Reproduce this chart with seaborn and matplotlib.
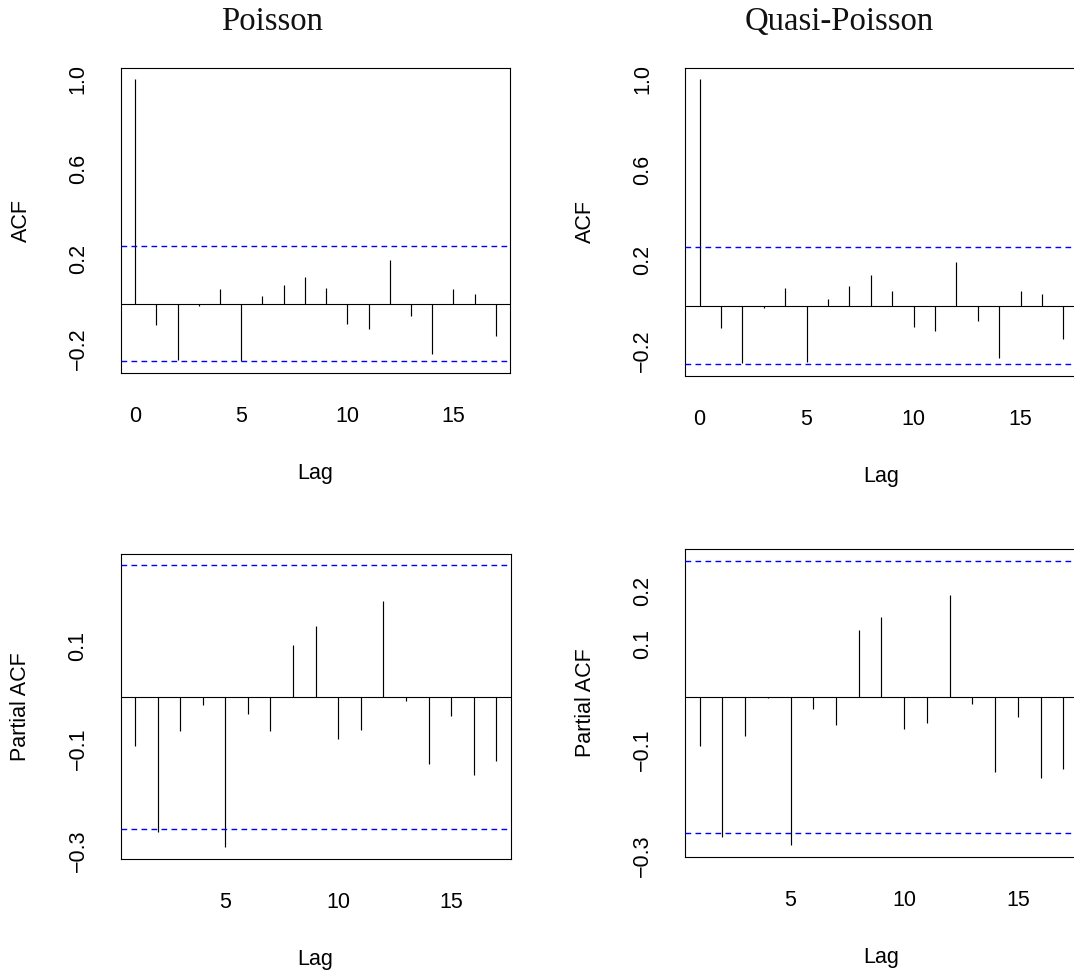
import matplotlib
matplotlib.use("Agg")
import matplotlib.pyplot as plt
import numpy as np
import pandas as pd
import seaborn as sns

# values
ACF_LAGS = list(range(0, 18))
PACF_LAGS = list(range(1, 18))
ACF_POISSON = [1.0, -0.095, -0.251, -0.009, 0.064, -0.255, 0.034, 0.083, 0.117,
               0.071, -0.092, -0.113, 0.194, -0.055, -0.224, 0.064, 0.043, -0.142]
ACF_QUASI = [1.0, -0.096, -0.254, -0.012, 0.078, -0.247, 0.029, 0.087, 0.135,
             0.065, -0.093, -0.110, 0.194, -0.068, -0.229, 0.065, 0.054, -0.147]
PACF_POISSON = [-0.095, -0.263, -0.067, -0.016, -0.293, -0.033, -0.067, 0.102, 0.138,
                -0.081, -0.064, 0.187, -0.008, -0.131, -0.036, -0.152, -0.124]
PACF_QUASI = [-0.094, -0.265, -0.074, -0.002, -0.281, -0.024, -0.053, 0.126, 0.150,
              -0.061, -0.049, 0.193, -0.014, -0.142, -0.039, -0.153, -0.136]
CI_BOUND = 0.2574

TITLES = ["Poisson", "Quasi-Poisson"]
ACF_YTICKS = [-0.2, 0.0, 0.2, 0.4, 0.6, 0.8, 1.0]
ACF_YLABELS = ["\u22120.2", "", "0.2", "", "0.6", "", "1.0"]
PACF_YTICKS = [-0.3, -0.2, -0.1, 0.0, 0.1, 0.2]
PACF_YLABELS_LEFT = ["\u22120.3", "", "\u22120.1", "", "0.1", ""]
PACF_YLABELS_RIGHT = ["\u22120.3", "", "\u22120.1", "", "0.1", "0.2"]

W, H = 1074, 971
DPI = 100
PX = 72.0 / DPI
FS = 15.5
CI_COLOR = "#0000FF"

sns.set_theme(style="white")
plt.rcParams.update({
    "font.family": ["Liberation Sans", "DejaVu Sans"],
    "text.color": "black",
    "axes.labelcolor": "black",
    "axes.edgecolor": "black",
    "axes.linewidth": 0.8,
    "xtick.color": "black",
    "ytick.color": "black",
    "xtick.direction": "out",
    "ytick.direction": "out",
})


def r_range(lo, hi):
    ext = (hi - lo) * 0.04
    return lo - ext, hi + ext


def panel(fig, box, lags, vals, ylabel, yticks, ylabels, xticks):
    x0, y0, x1, y1 = box
    ax = fig.add_axes([x0 / W, 1 - y1 / H, (x1 - x0) / W, (y1 - y0) / H])
    df = pd.DataFrame({"lag": lags, "value": vals})
    ax.vlines(df["lag"], 0, df["value"], color="black", lw=0.85)
    ax.axhline(0, color="black", lw=0.8)
    for c in (CI_BOUND, -CI_BOUND):
        ax.axhline(c, color=CI_COLOR, lw=1.0, linestyle=(0, (4.1, 3.1)), zorder=3)
    ax.set_xlim(*r_range(min(lags), max(lags)))
    ax.set_ylim(*r_range(min(min(vals), -CI_BOUND), max(max(vals), CI_BOUND)))
    ax.set_xticks(xticks, [str(t) for t in xticks])
    ax.set_yticks(yticks, ylabels)
    ax.tick_params(axis="both", length=14.5 * PX, width=0.8, labelsize=FS)
    ax.tick_params(axis="x", pad=13.5)
    ax.tick_params(axis="y", pad=28 * PX, labelrotation=90)
    for lab in ax.get_yticklabels():
        lab.set_horizontalalignment("center")
        lab.set_verticalalignment("center")
    ax.set_xlabel("Lag", fontsize=FS)
    ax.set_ylabel(ylabel, fontsize=FS)
    ax.xaxis.set_label_coords(0.5, -101 / (y1 - y0))
    ax.xaxis.label.set_verticalalignment("center")
    ax.yaxis.set_label_coords(-99.5 / (x1 - x0), 0.5)
    ax.yaxis.label.set_verticalalignment("center")
    for side in ["top", "right", "bottom", "left"]:
        ax.spines[side].set_visible(True)
    ax.grid(False)
    return ax


fig = plt.figure(figsize=(W / DPI, H / DPI), dpi=DPI)
fig.patch.set_facecolor("white")

panel(fig, (120.7, 68.0, 510.3, 372.7), ACF_LAGS, ACF_POISSON, "ACF",
      ACF_YTICKS, ACF_YLABELS, [0, 5, 10, 15])
panel(fig, (685.0, 67.7, 1078.0, 375.5), ACF_LAGS, ACF_QUASI, "ACF",
      ACF_YTICKS, ACF_YLABELS, [0, 5, 10, 15])
panel(fig, (120.5, 553.7, 510.8, 858.7), PACF_LAGS, PACF_POISSON, "Partial ACF",
      PACF_YTICKS, PACF_YLABELS_LEFT, [5, 10, 15])
panel(fig, (685.0, 549.3, 1078.0, 856.7), PACF_LAGS, PACF_QUASI, "Partial ACF",
      PACF_YTICKS, PACF_YLABELS_RIGHT, [5, 10, 15])

for title, xc in zip(TITLES, [271.7, 839.0]):
    fig.text(xc / W, 1 - 22 / H, title, ha="center", va="center",
             fontsize=23.6, family=["Liberation Serif", "DejaVu Serif"], color="#111111")

fig.savefig("out.png", dpi=DPI, facecolor="white")
